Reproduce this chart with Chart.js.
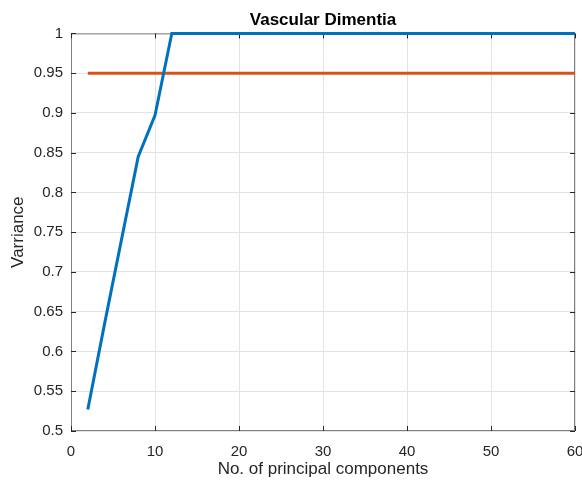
<!DOCTYPE html>
<html>
<head>
<meta charset="utf-8">
<script src="https://cdn.jsdelivr.net/npm/chart.js@4"></script>
<style>
  html, body { margin: 0; padding: 0; background: #fff; }
  #wrap { width: 582px; height: 480px; }
</style>
</head>
<body>
<div id="wrap"><canvas id="myChart" width="582" height="480"></canvas></div>
<script>
// data
const components = [2, 4, 6, 8, 10, 12, 14, 16, 18, 20, 22, 24, 26, 28, 30, 32, 34, 36, 38, 40, 42, 44, 46, 48, 50, 52, 54, 56, 58, 60]
const variance = [0.527, 0.635, 0.740, 0.845, 0.897, 1, 1, 1, 1, 1, 1, 1, 1, 1, 1, 1, 1, 1, 1, 1, 1, 1, 1, 1, 1, 1, 1, 1, 1, 1]
const threshold = components.map(() => 0.95)
const xTicks = [0, 10, 20, 30, 40, 50, 60]
const yTicks = [0.5, 0.55, 0.6, 0.65, 0.7, 0.75, 0.8, 0.85, 0.9, 0.95, 1]

const textColor = "#262626"
const gridColor = "#e3e3e3"
const font = "'Liberation Sans', Arial, sans-serif"

// box around plot + inward tick marks, matlab style
const boxPlugin = {
    id: 'box',
    beforeDatasetsDraw(chart) {
        const {ctx, chartArea: a, scales} = chart
        ctx.save()
        ctx.strokeStyle = "#808080"
        ctx.lineWidth = 1
        ctx.strokeRect(a.left + 0.5, a.top + 0.5, a.width - 1, a.height - 1)
        ctx.strokeStyle = "#262626"
        ctx.beginPath()
        xTicks.forEach(v => {
            let px = Math.round(scales.x.getPixelForValue(v)) + 0.5
            ctx.moveTo(px, a.bottom); ctx.lineTo(px, a.bottom - 5)
            ctx.moveTo(px, a.top); ctx.lineTo(px, a.top + 5)
        })
        yTicks.forEach(v => {
            let py = Math.round(scales.y.getPixelForValue(v)) + 0.5
            ctx.moveTo(a.left, py); ctx.lineTo(a.left + 5, py)
            ctx.moveTo(a.right, py); ctx.lineTo(a.right - 5, py)
        })
        ctx.stroke()
        ctx.restore()
    }
}

new Chart("myChart", {
    type: "line",
    data: {
        datasets: [
            {
                label: "Variance",
                data: components.map((c, i) => ({x: c, y: variance[i]})),
                borderColor: "#0072BD",
                borderWidth: 3,
                pointRadius: 0,
                tension: 0,
                clip: false
            },
            {
                label: "Threshold",
                data: components.map((c, i) => ({x: c, y: threshold[i]})),
                borderColor: "#D95319",
                borderWidth: 3,
                pointRadius: 0,
                tension: 0,
                clip: false
            }
        ]
    },
    options: {
        responsive: false,
        animation: false,
        layout: { padding: { left: 0, right: 7, top: 0, bottom: 0 } },
        plugins: {
            legend: { display: false },
            tooltip: { enabled: false },
            title: {
                display: true,
                fullSize: false,
                text: "Vascular Dimentia",
                color: "#000",
                font: { family: font, size: 17, weight: "bold" },
                padding: { top: 10, bottom: 3 }
            }
        },
        scales: {
            x: {
                type: "linear",
                min: 0,
                max: 60,
                afterBuildTicks: s => { s.ticks = xTicks.map(v => ({value: v})) },
                afterFit: s => { s.height = 49; s.paddingLeft = 0; s.paddingRight = 0 },
                grid: { color: gridColor, drawTicks: false },
                border: { display: false },
                ticks: { color: textColor, font: { family: font, size: 15 }, padding: 12 },
                title: {
                    display: true,
                    text: "No. of principal components",
                    color: textColor,
                    font: { family: font, size: 17 },
                    padding: { top: 0, bottom: 0 }
                }
            },
            y: {
                min: 0.5,
                max: 1,
                afterBuildTicks: s => { s.ticks = yTicks.map(v => ({value: v})) },
                afterFit: s => { s.width = 71; s.paddingTop = 0; s.paddingBottom = 0 },
                grid: { color: gridColor, drawTicks: false },
                border: { display: false },
                ticks: {
                    color: textColor,
                    font: { family: font, size: 15 },
                    padding: 8,
                    callback: v => String(Number(v.toFixed(2)))
                },
                title: {
                    display: true,
                    text: "Varriance",
                    color: textColor,
                    font: { family: font, size: 17 },
                    padding: { top: 8, bottom: 0 }
                }
            }
        }
    },
    plugins: [boxPlugin]
})
</script>
</body>
</html>
